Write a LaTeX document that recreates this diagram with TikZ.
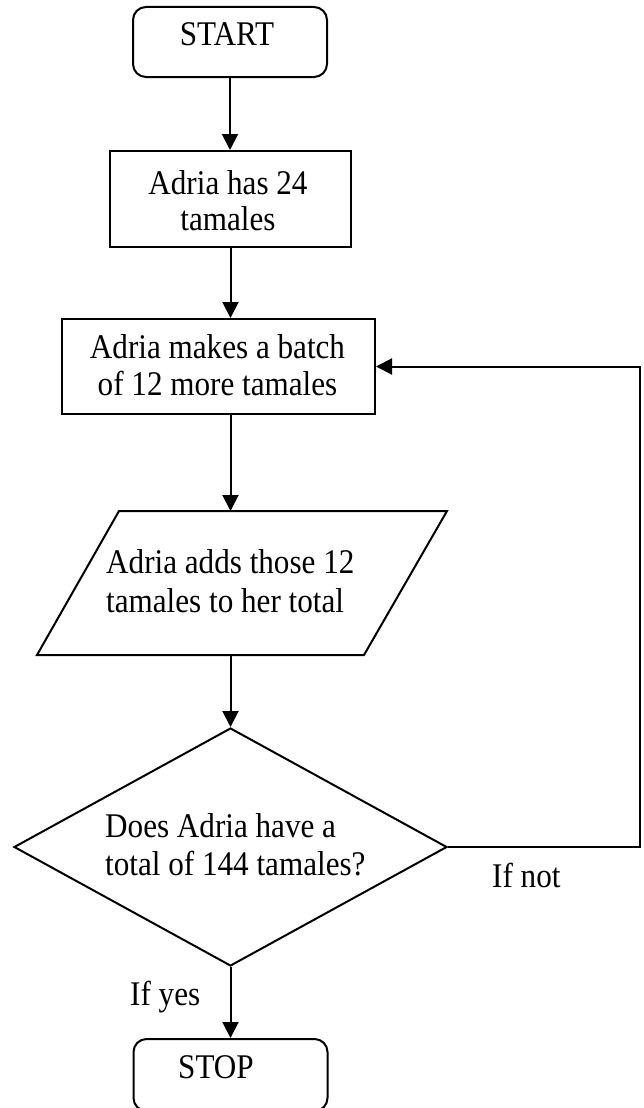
\documentclass[tikz,border=0pt]{standalone}
\usepackage{fontspec}
\setmainfont{Liberation Serif}
\newfontfamily\tnr[FakeStretch=0.9]{Liberation Serif}
\usetikzlibrary{arrows.meta,shapes.geometric}
\begin{document}
\begin{tikzpicture}[x=1pt,y=-1pt,
  box/.style={draw, rectangle, inner sep=0pt, line width=2pt},
  term/.style={box, rounded corners=13pt},
  decision/.style={draw, diamond, inner sep=0pt, line width=2pt},
  txt/.style={inner sep=0pt, anchor=base, font=\tnr\fontsize{34.6}{38}\selectfont},
  arr/.style={-{Triangle[length=16pt,width=16pt]}, line width=2pt}]
\clip (0,0) rectangle (643,1108);
\useasboundingbox (0,0) rectangle (643,1108);
% shapes
\node[term, minimum width=194pt, minimum height=70pt] (start) at (230,42) {};
\node[box, minimum width=241pt, minimum height=96pt] (has24) at (230.5,199) {};
\node[box, minimum width=313pt, minimum height=95pt] (batch) at (218.5,366.5) {};
\coordinate (pTL) at (119,511);
\coordinate (pTR) at (447,511);
\coordinate (pBR) at (364,655);
\coordinate (pBL) at (37,655);
\draw[line width=2pt, line join=miter] (pTL) -- (pTR) -- (pBR) -- (pBL) -- cycle;
\coordinate (addsN) at (230.5,511);
\coordinate (addsS) at (230.5,655);
\node[decision, minimum width=433pt, minimum height=238pt] (decide) at (230.5,847) {};
\node[term, minimum width=194pt, minimum height=72pt] (stop) at (230.5,1075) {};
\coordinate (loop) at (640,847);
% connectors
\draw[arr] (start.south) -- (start.south |- has24.north);
\draw[arr] (has24.south) -- (has24.south |- batch.north);
\draw[arr] (has24.south |- batch.south) -- (addsN);
\draw[arr] (addsS) -- (decide.north);
\draw[arr] (decide.south) -- (stop.north);
\draw[arr] (decide.east) -- (loop) |- (batch.east);
% texts
\node[txt] (tStart) at (227,46) {START};
\node[txt] (t1a) at (228,194) {Adria has 24};
\node[txt] (t1b) at (228,230) {tamales};
\node[txt] (t2a) at (217.5,358) {Adria makes a batch};
\node[txt] (t2b) at (217.5,395) {of 12 more tamales};
\node[txt, anchor=base west] (t3a) at (106,573) {Adria adds those 12};
\node[txt, anchor=base west] (t3b) at (106,612) {tamales to her total};
\node[txt, anchor=base west] (t4a) at (105,837) {Does Adria have a};
\node[txt, anchor=base west] (t4b) at (105,875) {total of 144 tamales?};
\node[txt, anchor=base west] (tno) at (492,887) {If not};
\node[txt, anchor=base west] (tyes) at (130,1005) {If yes};
\node[txt] (tStop) at (216,1078) {STOP};
\end{tikzpicture}
\end{document}
